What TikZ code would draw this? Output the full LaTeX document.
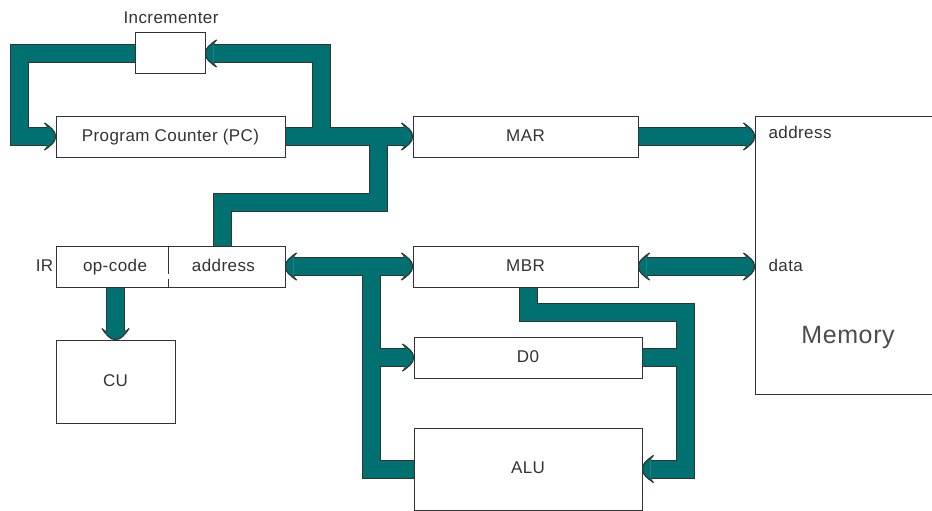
\documentclass[tikz,border=0pt]{standalone}
\usepackage{fontspec}
\setmainfont[LetterSpace=2.5]{Liberation Sans}
\usetikzlibrary{arrows.meta,backgrounds}
\definecolor{sarcelle}{RGB}{0,112,112}
\definecolor{trait}{HTML}{333333}

% pointe de bus : nez arrondi, petites barbes
\pgfdeclarearrow{
  name = Obus,
  setup code = {
    \pgfarrowssettipend{9pt}
    \pgfarrowssetlineend{1pt}
    \pgfarrowssetbackend{-2pt}
    \pgfarrowshullpoint{9pt}{0pt}
    \pgfarrowsupperhullpoint{-2pt}{13.5pt}
  },
  drawing code = {
    \pgfsetlinewidth{1pt}
    \pgfsetstrokecolor{trait}
    \pgfsetfillcolor{sarcelle}
    \pgfsetroundjoin
    \pgfpathmoveto{\pgfqpoint{-2pt}{13.5pt}}
    \pgfpathcurveto{\pgfqpoint{4pt}{9pt}}{\pgfqpoint{9pt}{6pt}}{\pgfqpoint{9pt}{0pt}}
    \pgfpathcurveto{\pgfqpoint{9pt}{-6pt}}{\pgfqpoint{4pt}{-9pt}}{\pgfqpoint{-2pt}{-13.5pt}}
    \pgfpathlineto{\pgfqpoint{1pt}{-8.5pt}}
    \pgfpathlineto{\pgfqpoint{1pt}{8.5pt}}
    \pgfpathclose
    \pgfusepathqfill
    \pgfpathmoveto{\pgfqpoint{-2pt}{13.5pt}}
    \pgfpathcurveto{\pgfqpoint{4pt}{9pt}}{\pgfqpoint{9pt}{6pt}}{\pgfqpoint{9pt}{0pt}}
    \pgfpathcurveto{\pgfqpoint{9pt}{-6pt}}{\pgfqpoint{4pt}{-9pt}}{\pgfqpoint{-2pt}{-13.5pt}}
    \pgfusepathqstroke
  }
}

\tikzset{
  registre/.style={draw=trait,line width=1pt,fill=white,inner sep=0pt,minimum height=41pt},
  bus/.style={draw=sarcelle,line width=17pt},
  bout/.tip={Obus}
}

\begin{document}
\begin{tikzpicture}[x=1pt,y=-1pt,font=\fontsize{17}{20}\selectfont,text=trait,
    every node/.append style={text height=12.5pt,text depth=3.5pt}]
  \useasboundingbox (0,0) rectangle (932,511);
  % registres
  \node[registre,minimum width=70pt] (inc) at (170,53.5) {};
  \node (incnom) at (171,19) {Incrementer};
  \node[registre,minimum width=229pt] (pc) at (170.5,136.5) {Program Counter (PC)};
  \node[registre,minimum width=225pt] (mar) at (525.5,136.5) {MAR};
  \node[registre,minimum width=229pt] (ir) at (170.5,266.5) {};
  \node (irnom) at (44.5,266.5) {IR};
  \node (opcode) at (115,266.5) {op-code};
  \node (iradr) at (223.5,266.5) {address};
  \draw[trait,line width=1pt,dash pattern=on 28pt off 5pt] (168,0 |- ir.north) -- (168,0 |- ir.south);
  \node[registre,minimum width=225pt] (mbr) at (525.5,266.5) {MBR};
  \node[registre,minimum width=119pt,minimum height=83pt] (cu) at (115.5,381.5) {CU};
  \node[registre,minimum width=228pt] (d0) at (528,357.5) {D0};
  \node[registre,minimum width=228pt,minimum height=82pt] (alu) at (528,469) {ALU};
  % memoire
  \node[registre,minimum width=185pt,minimum height=278pt] (mem) at (847.5,255) {};
  \node[anchor=west] (memadr) at (765,134) {address};
  \node[anchor=west] (memdata) at (765,267) {data};
  \node[font=\fontsize{25}{30}\selectfont,text=black!70,text height=18pt,text depth=5pt] (memnom) at (848,337) {Memory};
  % bus : bord sombre puis remplissage
  \begin{scope}[on background layer]
  \foreach \epais/\teinte in {19/trait,17/sarcelle}{
  \begin{scope}[bus/.style={draw=\teinte,line width=\epais pt}]
    \draw[bus,-bout] (inc.west) -| (19,136.5) -- (pc.west);
    \draw[bus,-bout] (pc.east) -- (mar.west);
    \draw[bus,-bout] (321.5,136.5) |- (inc.east);
    \draw[bus] (378,136.5) -- (378,202) -| (222,0 |- ir.north);
    \draw[bus,bout-bout] (ir.east) -- (mbr.west);
    \draw[bus] (371.5,266.5) |- (alu.west);
    \draw[bus,-bout] (371.5,0 |- d0.west) -- (d0.west);
    \draw[bus,-bout] (cu.north |- ir.south) -- (cu.north);
    \draw[bus,-bout] (mar.east) -- (mem.west |- mar.east);
    \draw[bus,bout-bout] (mbr.east) -- (mem.west |- mbr.east);
    \draw[bus,-bout] (528,0 |- mbr.south) -- (528,312) -| (685,0 |- alu.east) -- (alu.east);
    \draw[bus] (d0.east) -- (685,0 |- d0.east);
  \end{scope}
  }
  \end{scope}
\end{tikzpicture}
\end{document}
